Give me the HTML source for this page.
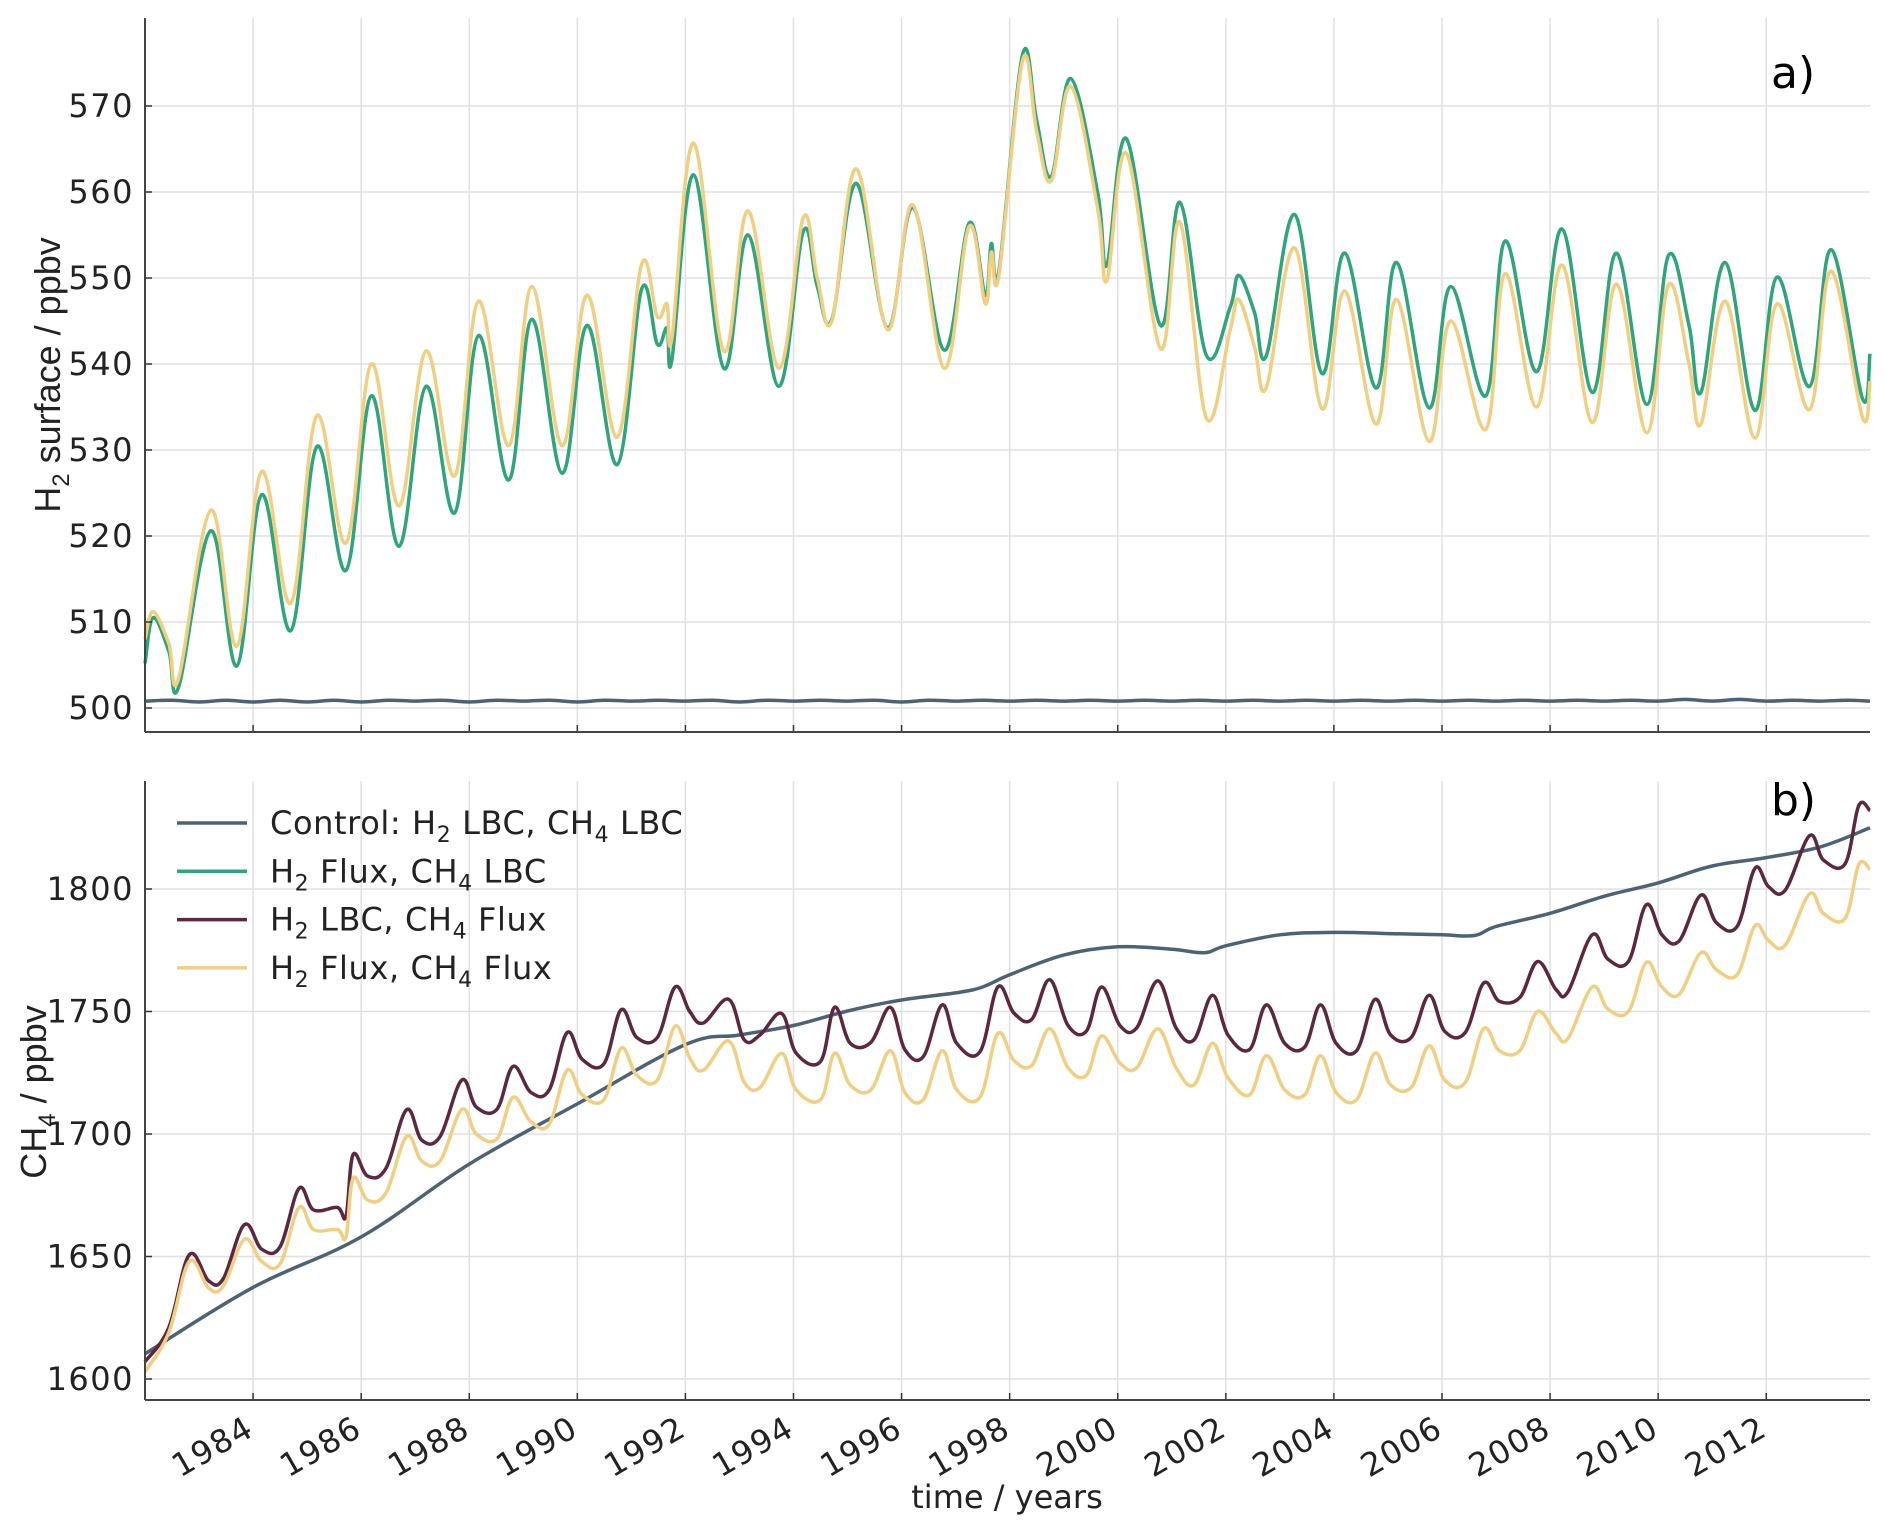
<!DOCTYPE html>
<html><head><meta charset="utf-8">
<style>
html,body{margin:0;padding:0;background:#fff;}
svg{display:block;font-family:"DejaVu Sans","Liberation Sans",sans-serif;}
</style></head>
<body>
<svg id="chart" width="1892" height="1535" viewBox="0 0 1892 1535" xmlns="http://www.w3.org/2000/svg">
<g id="gridA"></g>
<g id="gridB"></g>
<g id="seriesA"></g>
<g id="seriesB"></g>
<g id="axes"></g>
<text x="1771" y="88" font-size="44">a)</text>
<text x="1771" y="815" font-size="44">b)</text>
<text transform="translate(60,375) rotate(-90)" text-anchor="middle" font-size="36" font-family="Liberation Sans, sans-serif" fill="#222">H<tspan font-size="24" dy="9">2</tspan><tspan dy="-9"> surface / ppbv</tspan></text>
<text transform="translate(46,1092) rotate(-90)" text-anchor="middle" font-size="36" font-family="Liberation Sans, sans-serif" fill="#222">CH<tspan font-size="24" dy="9">4</tspan><tspan dy="-9"> / ppbv</tspan></text>
<text x="1007" y="1508" text-anchor="middle" font-size="32" fill="#222">time / years</text>
<g id="legend"></g>
</svg>
<script>
const NS="http://www.w3.org/2000/svg";
const xTicks=[1984,1986,1988,1990,1992,1994,1996,1998,2000,2002,2004,2006,2008,2010,2012];
const yTicksA=[500,510,520,530,540,550,560,570];
const yTicksB=[1600,1650,1700,1750,1800];
const seriesNames=["Control: H2 LBC, CH4 LBC","H2 Flux, CH4 LBC","H2 LBC, CH4 Flux","H2 Flux, CH4 Flux"];

const tA=[1982.0,1982.15,1982.44,1982.62,1983.22,1983.7,1984.16,1984.7,1985.18,1985.72,1986.19,1986.7,1987.2,1987.73,1988.17,1988.73,1989.16,1989.72,1990.18,1990.74,1991.19,1991.48,1991.66,1991.75,1992.15,1992.71,1993.16,1993.73,1994.18,1994.44,1994.71,1995.16,1995.74,1996.21,1996.79,1997.25,1997.55,1997.66,1997.8,1998.24,1998.5,1998.77,1999.13,1999.63,1999.8,2000.16,2000.79,2001.15,2001.64,2002.08,2002.24,2002.53,2002.75,2003.27,2003.78,2004.2,2004.78,2005.16,2005.76,2006.16,2006.81,2007.17,2007.75,2008.22,2008.78,2009.23,2009.79,2010.19,2010.57,2010.79,2011.24,2011.79,2012.2,2012.8,2013.2,2013.78,2013.92];
const h2Flux=[505.2,510.5,506.6,502.4,520.6,504.9,524.8,509,530.4,516,536.3,518.8,537.4,522.7,543.3,526.5,545.2,527.3,544.5,528.3,548.7,542.3,544.2,540.5,562,539.5,555,537.4,555.4,549,545.2,561,544.2,558.2,541.6,556.4,548,554,550.8,576,568.3,561.8,573.2,559.9,551.5,566.2,544.5,558.8,541,546.6,550.3,546,541,557.4,538.9,552.9,537.2,551.8,534.9,549,536.3,554.3,539.1,555.7,536.7,552.9,535.3,552.6,544.5,536.7,551.8,534.6,550.1,537.4,553.3,536,541.2];
const h2Both=[508,511.2,507.5,503.4,523,507.2,527.5,512.2,534,519.2,540,523.5,541.5,527,547.3,530.5,549,530.5,548,531.5,551.6,545.5,547,543,565.7,541.5,557.8,539.5,557,550,545,562.7,544,558.5,539.5,556,547,553,550.3,575.3,567,561.3,572.3,558,549.7,564.5,541.8,556.5,533.7,544,547.5,542,537.3,553.5,534.8,548.5,533,547.5,531,545,532.4,550.5,535,551.5,533.2,549.3,532,549.2,540,533,547.3,531.4,547,534.7,550.8,533.8,538];
const tCtlA=[1982,1982.5,1983,1983.5,1984,1984.5,1985,1985.5,1986,1986.5,1987,1987.5,1988,1988.5,1989,1989.5,1990,1990.5,1991,1991.5,1992,1992.5,1993,1993.5,1994,1994.5,1995,1995.5,1996,1996.5,1997,1997.5,1998,1998.5,1999,1999.5,2000,2000.5,2001,2001.5,2002,2002.5,2003,2003.5,2004,2004.5,2005,2005.5,2006,2006.5,2007,2007.5,2008,2008.5,2009,2009.5,2010,2010.5,2011,2011.5,2012,2012.5,2013,2013.5,2013.92];
const h2Ctl=[500.8,500.9,500.7,500.9,500.7,500.9,500.7,500.9,500.7,500.9,500.8,500.9,500.7,500.9,500.8,500.9,500.7,500.9,500.8,500.9,500.8,500.9,500.7,500.9,500.8,500.9,500.8,500.9,500.7,500.9,500.8,500.9,500.8,500.9,500.8,500.9,500.8,500.9,500.8,500.9,500.8,500.9,500.8,500.9,500.8,500.9,500.8,500.9,500.8,500.9,500.8,500.9,500.8,500.9,500.8,500.9,500.8,501.0,500.8,501.0,500.8,500.9,500.8,500.9,500.8];

const tCtlB=[1982.0,1984,1986,1988,1990,1992,1993,1994,1995,1996,1997,1997.5,1998,1999,2000,2001,2001.6,2002,2003,2004,2005,2006,2006.6,2007,2008,2009,2010,2011,2012,2013,2013.92];
const ch4Ctl=[1610.3,1637.4,1658,1687.7,1712.3,1736.5,1740.4,1744.3,1750.2,1754.7,1757.6,1760,1765,1773,1776.4,1775.4,1774,1776.8,1781.3,1782.3,1781.8,1781.3,1781,1784.7,1790.1,1797,1802.5,1809.4,1812.8,1817.2,1825];
const tB=[1982.0,1982.44,1982.82,1983.18,1983.45,1983.84,1984.16,1984.5,1984.85,1985.12,1985.56,1985.72,1985.85,1986.12,1986.46,1986.84,1987.12,1987.46,1987.86,1988.13,1988.51,1988.81,1989.14,1989.48,1989.81,1990.09,1990.49,1990.81,1991.1,1991.48,1991.81,1992.08,1992.33,1992.8,1993.09,1993.38,1993.78,1994.05,1994.5,1994.76,1995.05,1995.43,1995.79,1996.06,1996.4,1996.75,1997.02,1997.45,1997.78,1998.08,1998.41,1998.74,1999.08,1999.42,1999.7,2000.04,2000.35,2000.74,2001.08,2001.41,2001.75,2002.04,2002.44,2002.75,2003.09,2003.46,2003.75,2004.04,2004.42,2004.76,2005.05,2005.43,2005.76,2006.05,2006.43,2006.77,2007.06,2007.44,2007.77,2008.11,2008.33,2008.78,2009.07,2009.45,2009.78,2010.07,2010.39,2010.79,2011.08,2011.46,2011.79,2012.04,2012.35,2012.8,2013.06,2013.46,2013.71,2013.92];
const ch4Flux=[1607,1621,1650.7,1640,1641,1663,1653,1654,1677.8,1669,1670,1666.5,1691.6,1682.8,1686,1709.9,1697.5,1699,1722,1711,1710,1727.6,1717,1718,1741.4,1730.5,1728.6,1750.7,1739.4,1739.4,1760,1750,1745.3,1755,1738.4,1740.4,1749.2,1733,1729.6,1751.7,1737,1737.4,1751.7,1734.5,1731.5,1752.7,1737,1733.5,1760,1749.3,1746.8,1763,1744.3,1742,1760,1744.3,1743.3,1762.5,1743.3,1738.4,1756.6,1740.4,1734.5,1752.7,1737,1735.5,1752.7,1737,1734,1755,1740.4,1739.4,1756.6,1741.9,1741.4,1761.6,1754.2,1755.7,1770.4,1759,1758,1781.3,1771.4,1770.4,1793.6,1781.3,1778.8,1797.5,1786.2,1784.7,1808.4,1801,1799.5,1821.7,1811.8,1810.3,1834,1832];
const ch4Both=[1603,1619,1648,1637,1638,1657,1648,1647,1670,1661,1661,1658,1682,1673,1676,1699,1689,1689,1710,1700,1698,1715,1705,1704,1726,1716,1714,1735,1724,1722,1744,1731,1726,1738,1721,1719,1733,1718,1714,1733,1720,1718,1734,1717,1714,1734,1718,1715,1741,1730,1728,1743,1727,1724,1740,1729,1727,1743,1727,1720,1737,1723,1716,1732,1718,1716,1732,1717,1714,1733,1720,1719,1736,1722,1721,1743,1734,1734,1750,1741,1739,1760,1751,1750,1770,1760,1757,1774,1767,1765,1785,1779,1777,1798,1790,1788,1810,1808];

const X0=145,X1=1870,XMIN=1982.0,XMAX=2013.92;
const AT=18,AB=732,BT=781,BB=1400;
function xs(t){return X0+(t-XMIN)/(XMAX-XMIN)*(X1-X0);}
function ysA(v){return 708-(v-500)*8.6;}
function ysB(v){return 1379-(v-1600)*2.45;}
function mk(tag,attrs,parent){const e=document.createElementNS(NS,tag);for(const k in attrs)e.setAttribute(k,attrs[k]);parent.appendChild(e);return e;}
const gA=document.getElementById('gridA'),gB=document.getElementById('gridB'),ax=document.getElementById('axes');
const sA=document.getElementById('seriesA'),sB=document.getElementById('seriesB'),lg=document.getElementById('legend');

xTicks.forEach(t=>{
  const x=xs(t);
  let l=mk('line',{x1:x,x2:x,y1:AT,y2:AB,stroke:'#e0e0e0','stroke-width':1.5},gA);
  
  l=mk('line',{x1:x,x2:x,y1:BT,y2:BB,stroke:'#e0e0e0','stroke-width':1.5},gB);
  
  l=mk('line',{x1:x,x2:x,y1:AB,y2:AB-7,stroke:'#333','stroke-width':1.5},ax);
  
  l=mk('line',{x1:x,x2:x,y1:BB,y2:BB-7,stroke:'#333','stroke-width':1.5},ax);
  
  const tx=mk('text',{x:0,y:0,'text-anchor':'end','font-size':32,'letter-spacing':1.5,fill:'#222',transform:`translate(${x-10},${BB+12}) rotate(-30)`,dy:'0.8em'},ax);
  tx.textContent=t;
  
});
yTicksA.forEach(v=>{
  const y=ysA(v);
  let l=mk('line',{x1:X0,x2:X1,y1:y,y2:y,stroke:'#e0e0e0','stroke-width':1.5},gA);
  
  l=mk('line',{x1:X0,x2:X0+7,y1:y,y2:y,stroke:'#333','stroke-width':1.5},ax);
  
  const tx=mk('text',{x:134,y:y+11,'text-anchor':'end','font-size':32,'letter-spacing':1.5,fill:'#222'},ax);
  tx.textContent=v;
  
});
yTicksB.forEach(v=>{
  const y=ysB(v);
  let l=mk('line',{x1:X0,x2:X1,y1:y,y2:y,stroke:'#e0e0e0','stroke-width':1.5},gB);
  
  l=mk('line',{x1:X0,x2:X0+7,y1:y,y2:y,stroke:'#333','stroke-width':1.5},ax);
  
  const tx=mk('text',{x:134,y:y+11,'text-anchor':'end','font-size':32,'letter-spacing':1.5,fill:'#222'},ax);
  tx.textContent=v;
  
});
[[AT,AB],[BT,BB]].forEach(([t,b],i)=>{
  let l=mk('line',{x1:X0,x2:X0,y1:t,y2:b,stroke:'#444','stroke-width':2},ax);
  
  l=mk('line',{x1:X0,x2:X1,y1:b,y2:b,stroke:'#444','stroke-width':2},ax);
  
});
function drawLine(ts,vs,yf,color,parent,name){
  const P=ts.map((t,i)=>[xs(t),yf(vs[i])]);
  let d='M'+P[0][0].toFixed(1)+','+P[0][1].toFixed(1);
  const k=0.18;
  for(let i=0;i<P.length-1;i++){
    const p0=P[Math.max(0,i-1)],p1=P[i],p2=P[i+1],p3=P[Math.min(P.length-1,i+2)];
    const c1=[p1[0]+(p2[0]-p0[0])*k,p1[1]+(p2[1]-p0[1])*k];
    const c2=[p2[0]-(p3[0]-p1[0])*k,p2[1]-(p3[1]-p1[1])*k];
    d+='C'+c1[0].toFixed(1)+','+c1[1].toFixed(1)+' '+c2[0].toFixed(1)+','+c2[1].toFixed(1)+' '+p2[0].toFixed(1)+','+p2[1].toFixed(1);
  }
  const p=mk('path',{d:d,fill:'none',stroke:color,'stroke-width':3.5,'stroke-linejoin':'round'},parent);
  
  
}
const C=['#4c6375','#2fa57b','#5c2840','#f0cf82'];
drawLine(tCtlA,h2Ctl,ysA,C[0],sA,'h2-control-line');
drawLine(tA,h2Flux,ysA,C[1],sA,'h2-flux-ch4-lbc-line');
drawLine(tA,h2Both,ysA,C[3],sA,'h2-flux-ch4-flux-h2-line');
drawLine(tCtlB,ch4Ctl,ysB,C[0],sB,'ch4-control-line');
drawLine(tB,ch4Flux,ysB,C[2],sB,'h2-lbc-ch4-flux-line');
drawLine(tB,ch4Both,ysB,C[3],sB,'h2-flux-ch4-flux-ch4-line');

const legendHTML=[
 'Control: H<tspan font-size="22" dy="8">2</tspan><tspan dy="-8"> LBC, CH</tspan><tspan font-size="22" dy="8">4</tspan><tspan dy="-8"> LBC</tspan>',
 'H<tspan font-size="22" dy="8">2</tspan><tspan dy="-8"> Flux, CH</tspan><tspan font-size="22" dy="8">4</tspan><tspan dy="-8"> LBC</tspan>',
 'H<tspan font-size="22" dy="8">2</tspan><tspan dy="-8"> LBC, CH</tspan><tspan font-size="22" dy="8">4</tspan><tspan dy="-8"> Flux</tspan>',
 'H<tspan font-size="22" dy="8">2</tspan><tspan dy="-8"> Flux, CH</tspan><tspan font-size="22" dy="8">4</tspan><tspan dy="-8"> Flux</tspan>'];
seriesNames.forEach((n,i)=>{
  const y=823+i*48.3;
  const g=mk('g',{},lg);
  
  
  mk('line',{x1:177,x2:247,y1:y,y2:y,stroke:C[i],'stroke-width':3.5},g);
  const tx=mk('text',{x:270,y:y+11,'font-size':32,'letter-spacing':0.6,fill:'#222'},g);
  tx.innerHTML=legendHTML[i];
});
</script>
</body></html>
